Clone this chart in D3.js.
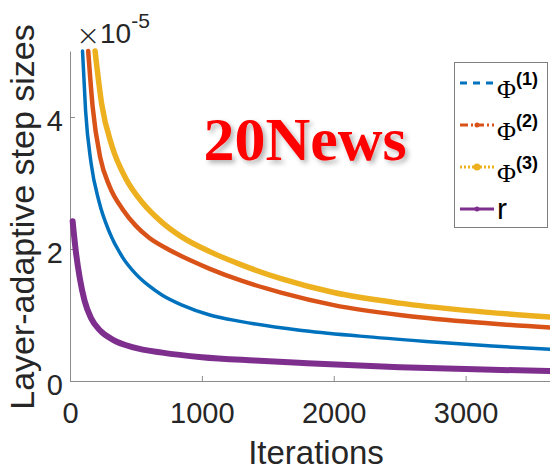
<!DOCTYPE html>
<html>
<head>
<meta charset="utf-8">
<script src="https://cdn.jsdelivr.net/npm/d3@7"></script>
<style>
  body { margin: 0; background: #fff; }
  svg { display: block; font-family: "Liberation Sans", Arial, sans-serif; }
</style>
</head>
<body>
<div id="wrapper"></div>
<script>
// values, y in units of 1e-5
const phi1Iter = [95, 118, 160, 220, 300, 400, 500, 600, 700, 850, 1060, 1300, 1742, 2200, 2700, 3200, 3640];
const phi1Val  = [5.0, 4.1, 3.3, 2.72, 2.25, 1.87, 1.62, 1.44, 1.3, 1.15, 1.0, 0.9, 0.77, 0.68, 0.6, 0.53, 0.48];

const phi2Iter = [138, 172, 230, 300, 400, 500, 600, 750, 900, 1060, 1300, 1600, 2000, 2500, 3000, 3640];
const phi2Val  = [5.0, 4.15, 3.38, 2.95, 2.6, 2.35, 2.17, 1.99, 1.84, 1.70, 1.52, 1.34, 1.15, 1.0, 0.9, 0.81];

const phi3Iter = [190, 240, 320, 420, 550, 700, 850, 1060, 1300, 1600, 2000, 2500, 3000, 3640];
const phi3Val  = [5.0, 4.2, 3.55, 3.08, 2.7, 2.4, 2.18, 1.96, 1.76, 1.55, 1.34, 1.18, 1.07, 0.97];

const rIter = [20, 45, 75, 110, 160, 230, 330, 480, 700, 1000, 1400, 1800, 2500, 3000, 3640];
const rVal  = [2.42, 1.95, 1.55, 1.22, 0.95, 0.76, 0.62, 0.51, 0.43, 0.36, 0.31, 0.27, 0.21, 0.18, 0.15];

const xTicks = [0, 1000, 2000, 3000];
const yTicks = [0, 2, 4];
const legendNames = ["(1)", "(2)", "(3)", "r"];

const series = [
    {iter: phi1Iter, val: phi1Val, color: "#0072BD", width: 3.5},
    {iter: phi2Iter, val: phi2Val, color: "#D95319", width: 4.5},
    {iter: phi3Iter, val: phi3Val, color: "#EDB120", width: 5.5},
    {iter: rIter,    val: rVal,    color: "#7E2F8E", width: 6}
];

const dimension = {
    width: 550,
    height: 467,
    margin: {top: 51, left: 70, bottom: 86, right: 0}
};
dimension.boundedWidth = dimension.width - dimension.margin.left - dimension.margin.right;
dimension.boundedHeight = dimension.height - dimension.margin.top - dimension.margin.bottom;

const svg = d3.select("#wrapper").append("svg")
    .attr("width", dimension.width)
    .attr("height", dimension.height);

const defs = svg.append("defs");
const shadow = defs.append("filter").attr("id", "shadow")
    .attr("x", "-10%").attr("y", "-20%").attr("width", "130%").attr("height", "150%");
shadow.append("feDropShadow")
    .attr("dx", 3).attr("dy", 3).attr("stdDeviation", 2.5)
    .attr("flood-color", "#000").attr("flood-opacity", 0.3);

const xScaler = d3.scaleLinear()
    .domain([0, 3640])
    .range([dimension.margin.left, dimension.width - dimension.margin.right]);
const yScaler = d3.scaleLinear()
    .domain([0, 5])
    .range([dimension.margin.top + dimension.boundedHeight, dimension.margin.top]);

// axes (ticks point inwards, no box)
const xAxis = d3.axisBottom(xScaler).tickValues(xTicks).tickFormat(d3.format("d"))
    .tickSizeInner(-5).tickSizeOuter(0).tickPadding(21);
const yAxis = d3.axisLeft(yScaler).tickValues(yTicks).tickFormat(d3.format("d"))
    .tickSizeInner(-5).tickSizeOuter(0).tickPadding(7);

const gx = svg.append("g")
    .attr("transform", `translate(0, ${yScaler(0)})`)
    .call(xAxis);
const gy = svg.append("g")
    .attr("transform", `translate(${xScaler(0)}, 0)`)
    .call(yAxis);

[gx, gy].forEach(g => {
    g.select(".domain").attr("stroke", "#8c8c8c").attr("stroke-width", 1);
    g.selectAll(".tick line").attr("stroke", "#8c8c8c");
    g.selectAll(".tick text").attr("fill", "#262626")
        .style("font-size", "29px")
        .style("font-family", "'Liberation Sans', Arial, sans-serif");
});
gy.selectAll(".tick text").attr("dy", "0.45em");

// lines
const line = d3.line().curve(d3.curveMonotoneX);
series.forEach(s => {
    const pts = s.iter.map((it, i) => [xScaler(it), yScaler(s.val[i])]);
    svg.append("path")
        .attr("d", line(pts))
        .attr("fill", "none")
        .attr("stroke", s.color)
        .attr("stroke-width", s.width)
        .attr("stroke-linecap", "round")
        .attr("stroke-linejoin", "round");
});

// exponent label
svg.append("text")
    .attr("x", 76).attr("y", 45)
    .attr("fill", "#262626")
    .style("font-family", "'DejaVu Sans', sans-serif")
    .style("font-weight", 200)
    .style("font-size", "29px")
    .text("\u00d7");
const expo = svg.append("text")
    .attr("x", 100).attr("y", 43)
    .attr("fill", "#262626")
    .style("font-size", "28px");
expo.append("tspan").text("10");
expo.append("tspan").attr("dy", -15).style("font-size", "21px").text("-5");

// axis labels
svg.append("text")
    .attr("x", 316).attr("y", 464)
    .attr("text-anchor", "middle")
    .attr("fill", "#262626")
    .style("font-size", "33px")
    .text("Iterations");

svg.append("text")
    .attr("transform", `translate(34, ${217}) rotate(-90)`)
    .attr("text-anchor", "middle")
    .attr("fill", "#262626")
    .style("font-size", "34px")
    .text("Layer-adaptive step sizes");

// title
svg.append("text")
    .attr("x", 305).attr("y", 160)
    .attr("text-anchor", "middle")
    .attr("fill", "#ff0000")
    .attr("filter", "url(#shadow)")
    .style("font-family", "'Liberation Serif', 'Times New Roman', serif")
    .style("font-weight", "bold")
    .style("font-size", "62px")
    .text("20News");

// legend
const legend = svg.append("g");
legend.append("rect")
    .attr("x", 454.5).attr("y", 62.5)
    .attr("width", 93).attr("height", 165)
    .attr("fill", "#fff")
    .attr("stroke", "#7f7f7f")
    .attr("stroke-width", 1);

const legendY = d3.scalePoint().domain(legendNames).range([83, 209]);
const dashes = ["7,6", "8,3,2,3", "2,2", null];

legendNames.forEach((name, i) => {
    const yy = legendY(name);
    const s = series[i];
    legend.append("line")
        .attr("x1", 460).attr("x2", 494)
        .attr("y1", yy).attr("y2", yy)
        .attr("stroke", s.color)
        .attr("stroke-width", 3)
        .attr("stroke-dasharray", dashes[i]);
    if (i > 0) {
        legend.append("circle")
            .attr("cx", 477).attr("cy", yy)
            .attr("r", i === 2 ? 3.5 : 2.5)
            .attr("fill", s.color);
    }
    if (name === "r") {
        legend.append("text")
            .attr("x", 497).attr("y", yy + 10)
            .attr("fill", "#000")
            .style("font-size", "30px")
            .text("r");
    } else {
        const t = legend.append("text")
            .attr("x", 497).attr("y", yy + 15)
            .attr("fill", "#000");
        t.append("tspan")
            .style("font-family", "'Liberation Serif', 'Times New Roman', serif")
            .style("font-size", "26px")
            .text("\u03a6");
        t.append("tspan")
            .attr("dy", -13)
            .style("font-weight", "bold")
            .style("font-size", "18px")
            .text(name);
    }
});
</script>
</body>
</html>
